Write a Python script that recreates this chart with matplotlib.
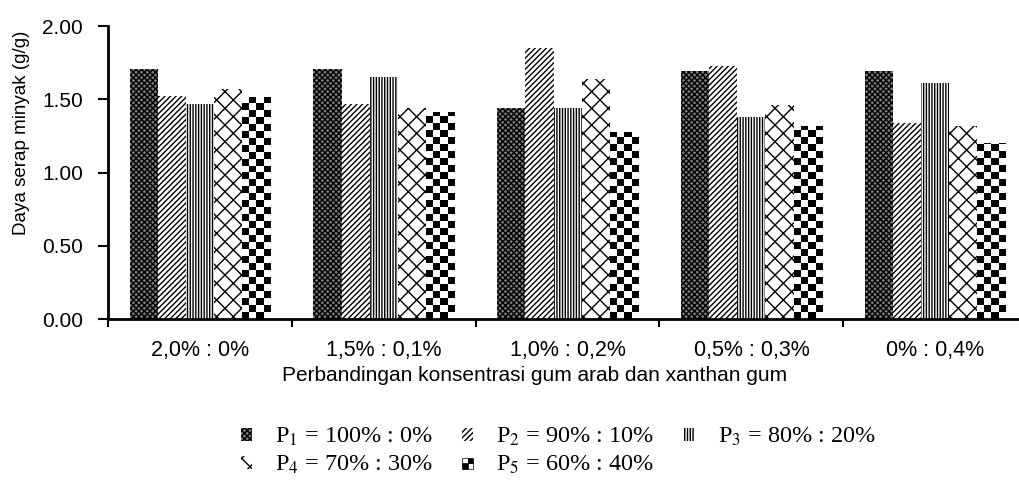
import numpy as np
import matplotlib.pyplot as plt
from matplotlib.patches import Patch, Rectangle
from matplotlib.legend_handler import HandlerBase

categories = ["2,0% : 0%", "1,5% : 0,1%", "1,0% : 0,2%", "0,5% : 0,3%", "0% : 0,4%"]
series_names = ["P$_1$ = 100% : 0%", "P$_2$ = 90% : 10%", "P$_3$ = 80% : 20%",
                "P$_4$ = 70% : 30%", "P$_5$ = 60% : 40%"]
p1 = [1.71, 1.71, 1.44, 1.69, 1.69]
p2 = [1.52, 1.47, 1.85, 1.73, 1.34]
p3 = [1.47, 1.65, 1.44, 1.38, 1.61]
p4 = [1.57, 1.44, 1.64, 1.46, 1.32]
p5 = [1.515, 1.41, 1.28, 1.32, 1.20]
yticks = [0.0, 0.5, 1.0, 1.5, 2.0]

plt.rcParams['font.family'] = ['Liberation Sans', 'DejaVu Sans']
plt.rcParams['hatch.linewidth'] = 1.0
plt.rcParams['mathtext.fontset'] = 'stix'

fig = plt.figure(figsize=(10.19, 4.82), dpi=100)
ax = fig.add_axes([0.106, 0.338, 0.902, 0.608])

x = np.arange(len(categories))
w = 0.153
hatches = ['xxxxxx', '//////', '||||||', 'xx', None]

all_series = [p1, p2, p3, p4, p5]
checker_bars = []
for i, vals in enumerate(all_series):
    offs = (i - 2) * w
    bars = ax.bar(x + offs, vals, w, color='white', edgecolor='black',
                  linewidth=0, hatch=hatches[i])
    if i == 0:
        for b in bars:
            b.set_facecolor('#7a7a7a')
    if i == 4:
        checker_bars = bars

# checkerboard fill for P5
nrows = 42
ncols = 4
board = (np.add.outer(np.arange(nrows), np.arange(ncols)) % 2).astype(float)
for b in checker_bars:
    x0 = b.get_x()
    im = ax.imshow(board, cmap='gray', extent=[x0, x0 + w, 0, 2.0],
                   interpolation='nearest', origin='lower', zorder=2)
    im.set_clip_path(b)
ax.set_aspect('auto')

ax.set_xlim(-0.5, 4.5)
ax.set_ylim(0, 2.0)
ax.set_yticks(yticks)
ax.set_yticklabels(["%.2f" % v for v in yticks], fontsize=15)
ax.set_xticks(np.arange(len(categories) + 1) - 0.5, minor=False)
ax.set_xticklabels([])
ax.set_xticks(x, minor=True)
ax.set_xticklabels(categories, minor=True, fontsize=15.5)
ax.tick_params(axis='x', which='minor', length=0, pad=15)
ax.tick_params(axis='x', which='major', length=6, width=1.5, direction='out')
ax.tick_params(axis='y', length=7, width=1.5, direction='out', pad=11)
for s in ['top', 'right']:
    ax.spines[s].set_visible(False)
for s in ['left', 'bottom']:
    ax.spines[s].set_linewidth(2)

ax.set_ylabel("Daya serap minyak (g/g)", fontsize=13.5)
ax.yaxis.set_label_coords(-0.085, 0.635)
ax.set_xlabel("Perbandingan konsentrasi gum arab dan xanthan gum", fontsize=15)
ax.xaxis.set_label_coords(0.4636, -0.16)


class CheckerHandler(HandlerBase):
    def create_artists(self, legend, orig_handle, xdescent, ydescent,
                       width, height, fontsize, trans):
        arts = []
        s = min(width, height)
        x0 = (width - s) / 2 - xdescent
        y0 = -ydescent
        for r in range(2):
            for c in range(2):
                col = 'black' if (r + c) % 2 == 0 else 'white'
                arts.append(Rectangle((x0 + c * s / 2, y0 + r * s / 2), s / 2, s / 2,
                                      facecolor=col, edgecolor='black', lw=0.5,
                                      transform=trans))
        return arts


handles = []
for i in range(4):
    fc = '#7a7a7a' if i == 0 else 'white'
    handles.append(Patch(facecolor=fc, edgecolor='black', linewidth=0, hatch=hatches[i]))
handles.append(Patch(facecolor='white'))

# column-major order so rows read P1 P2 P3 / P4 P5
order = [0, 3, 1, 4, 2]
leg = fig.legend([handles[k] for k in order], [series_names[k] for k in order],
                 loc='upper left', bbox_to_anchor=(0.2245, 0.142),
                 ncol=3, frameon=False, handlelength=0.45, handleheight=0.45,
                 handletextpad=0.95, columnspacing=1.2, labelspacing=0.25,
                 borderpad=0.0,
                 prop={'family': 'Liberation Serif', 'size': 17.5},
                 handler_map={handles[4]: CheckerHandler()})

fig.savefig("out.png", dpi=100)
